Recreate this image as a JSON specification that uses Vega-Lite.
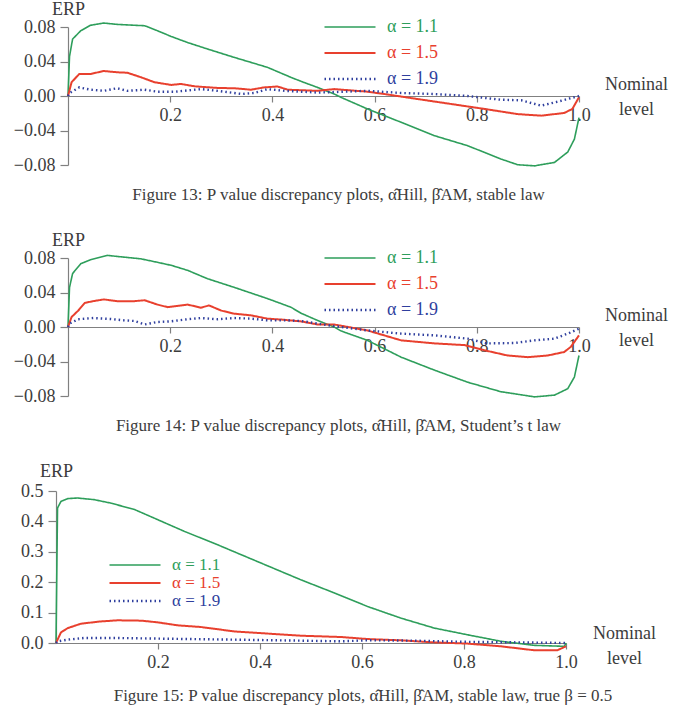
{
  "$schema": "https://vega.github.io/schema/vega-lite/v6.json",
  "padding": {"left": 13, "top": 0, "right": 4, "bottom": 4},
  "spacing": 28,
  "columns": 1,
  "align": "none",
  "config": {
    "font": "Liberation Serif",
    "view": {"stroke": null},
    "axis": {
      "grid": false,
      "labelFont": "Liberation Serif",
      "labelFontSize": 18,
      "labelColor": "#3c3c3c",
      "domainColor": "#808080",
      "tickColor": "#808080",
      "domainWidth": 1.2,
      "tickWidth": 1.2,
      "titleFont": "Liberation Serif",
      "titleFontSize": 18,
      "titleFontWeight": "normal",
      "titleColor": "#3c3c3c",
      "labelOverlap": false
    },
    "axisX": {"tickSize": 6, "labelPadding": 4, "labelFlush": false},
    "axisY": {"tickSize": 8, "labelPadding": 5},
    "legend": {
      "orient": "none", "legendX": 255, "legendY": -13,
      "title": null, "padding": 0,
      "symbolType": "stroke", "symbolSize": 2601,
      "clipHeight": 26, "rowPadding": 0,
      "labelFont": "Liberation Serif", "labelFontSize": 18, "labelOffset": 10
    },
    "title": {"fontSize": 17, "fontWeight": "normal", "color": "#3c3c3c", "font": "Liberation Serif"}
  },
  "datasets": {
    "stable": [
      {"alpha": "α = 1.1", "level": 0, "erp": 0},
      {"alpha": "α = 1.1", "level": 0.003, "erp": 0.046},
      {"alpha": "α = 1.1", "level": 0.009, "erp": 0.066},
      {"alpha": "α = 1.1", "level": 0.025, "erp": 0.0757},
      {"alpha": "α = 1.1", "level": 0.044, "erp": 0.082},
      {"alpha": "α = 1.1", "level": 0.07, "erp": 0.0846},
      {"alpha": "α = 1.1", "level": 0.096, "erp": 0.083},
      {"alpha": "α = 1.1", "level": 0.13, "erp": 0.082},
      {"alpha": "α = 1.1", "level": 0.15, "erp": 0.0815},
      {"alpha": "α = 1.1", "level": 0.175, "erp": 0.0757},
      {"alpha": "α = 1.1", "level": 0.202, "erp": 0.069},
      {"alpha": "α = 1.1", "level": 0.234, "erp": 0.062},
      {"alpha": "α = 1.1", "level": 0.273, "erp": 0.0545},
      {"alpha": "α = 1.1", "level": 0.325, "erp": 0.0448},
      {"alpha": "α = 1.1", "level": 0.39, "erp": 0.0333},
      {"alpha": "α = 1.1", "level": 0.436, "erp": 0.0217},
      {"alpha": "α = 1.1", "level": 0.456, "erp": 0.017},
      {"alpha": "α = 1.1", "level": 0.488, "erp": 0.01},
      {"alpha": "α = 1.1", "level": 0.521, "erp": 0.0023},
      {"alpha": "α = 1.1", "level": 0.534, "erp": -0.0015},
      {"alpha": "α = 1.1", "level": 0.586, "erp": -0.015},
      {"alpha": "α = 1.1", "level": 0.652, "erp": -0.0305},
      {"alpha": "α = 1.1", "level": 0.717, "erp": -0.046},
      {"alpha": "α = 1.1", "level": 0.782, "erp": -0.0576},
      {"alpha": "α = 1.1", "level": 0.847, "erp": -0.073},
      {"alpha": "α = 1.1", "level": 0.88, "erp": -0.0797},
      {"alpha": "α = 1.1", "level": 0.913, "erp": -0.081},
      {"alpha": "α = 1.1", "level": 0.952, "erp": -0.077},
      {"alpha": "α = 1.1", "level": 0.978, "erp": -0.065},
      {"alpha": "α = 1.1", "level": 0.991, "erp": -0.05},
      {"alpha": "α = 1.1", "level": 1.0, "erp": -0.025},
      {"alpha": "α = 1.5", "level": 0, "erp": 0},
      {"alpha": "α = 1.5", "level": 0.007, "erp": 0.016},
      {"alpha": "α = 1.5", "level": 0.022, "erp": 0.0255},
      {"alpha": "α = 1.5", "level": 0.044, "erp": 0.0255},
      {"alpha": "α = 1.5", "level": 0.07, "erp": 0.029},
      {"alpha": "α = 1.5", "level": 0.096, "erp": 0.0275},
      {"alpha": "α = 1.5", "level": 0.116, "erp": 0.027},
      {"alpha": "α = 1.5", "level": 0.143, "erp": 0.0217},
      {"alpha": "α = 1.5", "level": 0.169, "erp": 0.016},
      {"alpha": "α = 1.5", "level": 0.202, "erp": 0.0128},
      {"alpha": "α = 1.5", "level": 0.221, "erp": 0.014},
      {"alpha": "α = 1.5", "level": 0.248, "erp": 0.0112},
      {"alpha": "α = 1.5", "level": 0.293, "erp": 0.0093},
      {"alpha": "α = 1.5", "level": 0.325, "erp": 0.009},
      {"alpha": "α = 1.5", "level": 0.358, "erp": 0.0073},
      {"alpha": "α = 1.5", "level": 0.384, "erp": 0.01},
      {"alpha": "α = 1.5", "level": 0.41, "erp": 0.011},
      {"alpha": "α = 1.5", "level": 0.43, "erp": 0.0073},
      {"alpha": "α = 1.5", "level": 0.488, "erp": 0.006},
      {"alpha": "α = 1.5", "level": 0.521, "erp": 0.008},
      {"alpha": "α = 1.5", "level": 0.586, "erp": 0.005},
      {"alpha": "α = 1.5", "level": 0.619, "erp": 0.0023},
      {"alpha": "α = 1.5", "level": 0.684, "erp": -0.0035},
      {"alpha": "α = 1.5", "level": 0.75, "erp": -0.0093},
      {"alpha": "α = 1.5", "level": 0.815, "erp": -0.015},
      {"alpha": "α = 1.5", "level": 0.88, "erp": -0.021},
      {"alpha": "α = 1.5", "level": 0.926, "erp": -0.0228},
      {"alpha": "α = 1.5", "level": 0.971, "erp": -0.0197},
      {"alpha": "α = 1.5", "level": 0.987, "erp": -0.015},
      {"alpha": "α = 1.5", "level": 1.0, "erp": -0.0015},
      {"alpha": "α = 1.9", "level": 0, "erp": 0},
      {"alpha": "α = 1.9", "level": 0.003, "erp": 0.0035},
      {"alpha": "α = 1.9", "level": 0.022, "erp": 0.01},
      {"alpha": "α = 1.9", "level": 0.044, "erp": 0.0073},
      {"alpha": "α = 1.9", "level": 0.07, "erp": 0.006},
      {"alpha": "α = 1.9", "level": 0.096, "erp": 0.009},
      {"alpha": "α = 1.9", "level": 0.116, "erp": 0.006},
      {"alpha": "α = 1.9", "level": 0.15, "erp": 0.0073},
      {"alpha": "α = 1.9", "level": 0.175, "erp": 0.005},
      {"alpha": "α = 1.9", "level": 0.21, "erp": 0.005},
      {"alpha": "α = 1.9", "level": 0.26, "erp": 0.008},
      {"alpha": "α = 1.9", "level": 0.293, "erp": 0.006},
      {"alpha": "α = 1.9", "level": 0.34, "erp": 0.0023},
      {"alpha": "α = 1.9", "level": 0.365, "erp": 0.0035},
      {"alpha": "α = 1.9", "level": 0.39, "erp": 0.008},
      {"alpha": "α = 1.9", "level": 0.424, "erp": 0.006},
      {"alpha": "α = 1.9", "level": 0.488, "erp": 0.004},
      {"alpha": "α = 1.9", "level": 0.521, "erp": 0.0046},
      {"alpha": "α = 1.9", "level": 0.586, "erp": 0.006},
      {"alpha": "α = 1.9", "level": 0.652, "erp": 0.0035},
      {"alpha": "α = 1.9", "level": 0.717, "erp": 0.0023},
      {"alpha": "α = 1.9", "level": 0.782, "erp": 0.0},
      {"alpha": "α = 1.9", "level": 0.847, "erp": -0.0043},
      {"alpha": "α = 1.9", "level": 0.887, "erp": -0.005},
      {"alpha": "α = 1.9", "level": 0.926, "erp": -0.0112},
      {"alpha": "α = 1.9", "level": 0.958, "erp": -0.0066},
      {"alpha": "α = 1.9", "level": 1.0, "erp": 0.0}
    ],
    "student": [
      {"alpha": "α = 1.1", "level": 0, "erp": 0},
      {"alpha": "α = 1.1", "level": 0.003, "erp": 0.046},
      {"alpha": "α = 1.1", "level": 0.009, "erp": 0.062},
      {"alpha": "α = 1.1", "level": 0.025, "erp": 0.0734},
      {"alpha": "α = 1.1", "level": 0.044, "erp": 0.078},
      {"alpha": "α = 1.1", "level": 0.077, "erp": 0.083},
      {"alpha": "α = 1.1", "level": 0.11, "erp": 0.081},
      {"alpha": "α = 1.1", "level": 0.143, "erp": 0.079},
      {"alpha": "α = 1.1", "level": 0.175, "erp": 0.075},
      {"alpha": "α = 1.1", "level": 0.202, "erp": 0.0715},
      {"alpha": "α = 1.1", "level": 0.234, "erp": 0.0657},
      {"alpha": "α = 1.1", "level": 0.273, "erp": 0.056},
      {"alpha": "α = 1.1", "level": 0.325, "erp": 0.046},
      {"alpha": "α = 1.1", "level": 0.39, "erp": 0.033},
      {"alpha": "α = 1.1", "level": 0.436, "erp": 0.023},
      {"alpha": "α = 1.1", "level": 0.456, "erp": 0.016},
      {"alpha": "α = 1.1", "level": 0.488, "erp": 0.0077},
      {"alpha": "α = 1.1", "level": 0.521, "erp": 0.0},
      {"alpha": "α = 1.1", "level": 0.534, "erp": -0.0045},
      {"alpha": "α = 1.1", "level": 0.586, "erp": -0.0155},
      {"alpha": "α = 1.1", "level": 0.652, "erp": -0.035},
      {"alpha": "α = 1.1", "level": 0.717, "erp": -0.05},
      {"alpha": "α = 1.1", "level": 0.782, "erp": -0.064},
      {"alpha": "α = 1.1", "level": 0.847, "erp": -0.075},
      {"alpha": "α = 1.1", "level": 0.913, "erp": -0.081},
      {"alpha": "α = 1.1", "level": 0.952, "erp": -0.079},
      {"alpha": "α = 1.1", "level": 0.978, "erp": -0.0715},
      {"alpha": "α = 1.1", "level": 0.991, "erp": -0.058},
      {"alpha": "α = 1.1", "level": 1.0, "erp": -0.033},
      {"alpha": "α = 1.5", "level": 0, "erp": 0},
      {"alpha": "α = 1.5", "level": 0.007, "erp": 0.0116},
      {"alpha": "α = 1.5", "level": 0.02, "erp": 0.019},
      {"alpha": "α = 1.5", "level": 0.033, "erp": 0.028},
      {"alpha": "α = 1.5", "level": 0.05, "erp": 0.03},
      {"alpha": "α = 1.5", "level": 0.07, "erp": 0.032},
      {"alpha": "α = 1.5", "level": 0.096, "erp": 0.03},
      {"alpha": "α = 1.5", "level": 0.13, "erp": 0.03},
      {"alpha": "α = 1.5", "level": 0.15, "erp": 0.031},
      {"alpha": "α = 1.5", "level": 0.175, "erp": 0.026},
      {"alpha": "α = 1.5", "level": 0.195, "erp": 0.023},
      {"alpha": "α = 1.5", "level": 0.221, "erp": 0.025},
      {"alpha": "α = 1.5", "level": 0.234, "erp": 0.026},
      {"alpha": "α = 1.5", "level": 0.26, "erp": 0.0224},
      {"alpha": "α = 1.5", "level": 0.276, "erp": 0.025},
      {"alpha": "α = 1.5", "level": 0.3, "erp": 0.019},
      {"alpha": "α = 1.5", "level": 0.325, "erp": 0.0155},
      {"alpha": "α = 1.5", "level": 0.358, "erp": 0.0135},
      {"alpha": "α = 1.5", "level": 0.39, "erp": 0.0097},
      {"alpha": "α = 1.5", "level": 0.42, "erp": 0.0085},
      {"alpha": "α = 1.5", "level": 0.456, "erp": 0.0065},
      {"alpha": "α = 1.5", "level": 0.488, "erp": 0.003},
      {"alpha": "α = 1.5", "level": 0.52, "erp": 0.003},
      {"alpha": "α = 1.5", "level": 0.586, "erp": -0.004},
      {"alpha": "α = 1.5", "level": 0.652, "erp": -0.0155},
      {"alpha": "α = 1.5", "level": 0.717, "erp": -0.019},
      {"alpha": "α = 1.5", "level": 0.776, "erp": -0.021},
      {"alpha": "α = 1.5", "level": 0.815, "erp": -0.027},
      {"alpha": "α = 1.5", "level": 0.86, "erp": -0.033},
      {"alpha": "α = 1.5", "level": 0.9, "erp": -0.035},
      {"alpha": "α = 1.5", "level": 0.939, "erp": -0.033},
      {"alpha": "α = 1.5", "level": 0.971, "erp": -0.029},
      {"alpha": "α = 1.5", "level": 0.984, "erp": -0.023},
      {"alpha": "α = 1.5", "level": 1.0, "erp": -0.0097},
      {"alpha": "α = 1.9", "level": 0, "erp": 0},
      {"alpha": "α = 1.9", "level": 0.003, "erp": 0.004},
      {"alpha": "α = 1.9", "level": 0.02, "erp": 0.009},
      {"alpha": "α = 1.9", "level": 0.05, "erp": 0.0104},
      {"alpha": "α = 1.9", "level": 0.083, "erp": 0.0093},
      {"alpha": "α = 1.9", "level": 0.11, "erp": 0.0077},
      {"alpha": "α = 1.9", "level": 0.13, "erp": 0.007},
      {"alpha": "α = 1.9", "level": 0.15, "erp": 0.003},
      {"alpha": "α = 1.9", "level": 0.175, "erp": 0.0058},
      {"alpha": "α = 1.9", "level": 0.202, "erp": 0.0066},
      {"alpha": "α = 1.9", "level": 0.234, "erp": 0.009},
      {"alpha": "α = 1.9", "level": 0.26, "erp": 0.0104},
      {"alpha": "α = 1.9", "level": 0.293, "erp": 0.009},
      {"alpha": "α = 1.9", "level": 0.325, "erp": 0.0104},
      {"alpha": "α = 1.9", "level": 0.358, "erp": 0.0097},
      {"alpha": "α = 1.9", "level": 0.39, "erp": 0.0077},
      {"alpha": "α = 1.9", "level": 0.424, "erp": 0.0077},
      {"alpha": "α = 1.9", "level": 0.456, "erp": 0.007},
      {"alpha": "α = 1.9", "level": 0.488, "erp": 0.004},
      {"alpha": "α = 1.9", "level": 0.521, "erp": 0.001},
      {"alpha": "α = 1.9", "level": 0.586, "erp": -0.004},
      {"alpha": "α = 1.9", "level": 0.652, "erp": -0.0077},
      {"alpha": "α = 1.9", "level": 0.717, "erp": -0.0097},
      {"alpha": "α = 1.9", "level": 0.782, "erp": -0.0135},
      {"alpha": "α = 1.9", "level": 0.82, "erp": -0.019},
      {"alpha": "α = 1.9", "level": 0.873, "erp": -0.0186},
      {"alpha": "α = 1.9", "level": 0.913, "erp": -0.0155},
      {"alpha": "α = 1.9", "level": 0.952, "erp": -0.0135},
      {"alpha": "α = 1.9", "level": 0.978, "erp": -0.0077},
      {"alpha": "α = 1.9", "level": 1.0, "erp": -0.002}
    ],
    "skewed": [
      {"alpha": "α = 1.1", "level": 0, "erp": 0},
      {"alpha": "α = 1.1", "level": 0.003, "erp": 0.444},
      {"alpha": "α = 1.1", "level": 0.0098, "erp": 0.466},
      {"alpha": "α = 1.1", "level": 0.023, "erp": 0.475},
      {"alpha": "α = 1.1", "level": 0.042, "erp": 0.477},
      {"alpha": "α = 1.1", "level": 0.075, "erp": 0.4715},
      {"alpha": "α = 1.1", "level": 0.108, "erp": 0.46},
      {"alpha": "α = 1.1", "level": 0.154, "erp": 0.439},
      {"alpha": "α = 1.1", "level": 0.199, "erp": 0.406},
      {"alpha": "α = 1.1", "level": 0.252, "erp": 0.367},
      {"alpha": "α = 1.1", "level": 0.317, "erp": 0.323},
      {"alpha": "α = 1.1", "level": 0.402, "erp": 0.263},
      {"alpha": "α = 1.1", "level": 0.48, "erp": 0.208},
      {"alpha": "α = 1.1", "level": 0.546, "erp": 0.1645},
      {"alpha": "α = 1.1", "level": 0.611, "erp": 0.12},
      {"alpha": "α = 1.1", "level": 0.676, "erp": 0.082},
      {"alpha": "α = 1.1", "level": 0.742, "erp": 0.049},
      {"alpha": "α = 1.1", "level": 0.807, "erp": 0.027},
      {"alpha": "α = 1.1", "level": 0.873, "erp": 0.0055},
      {"alpha": "α = 1.1", "level": 0.938, "erp": -0.0077},
      {"alpha": "α = 1.1", "level": 0.997, "erp": -0.011},
      {"alpha": "α = 1.1", "level": 1.0, "erp": 0.0},
      {"alpha": "α = 1.5", "level": 0, "erp": 0},
      {"alpha": "α = 1.5", "level": 0.0098, "erp": 0.035},
      {"alpha": "α = 1.5", "level": 0.023, "erp": 0.049},
      {"alpha": "α = 1.5", "level": 0.049, "erp": 0.0636},
      {"alpha": "α = 1.5", "level": 0.088, "erp": 0.071},
      {"alpha": "α = 1.5", "level": 0.121, "erp": 0.0746},
      {"alpha": "α = 1.5", "level": 0.167, "erp": 0.0735},
      {"alpha": "α = 1.5", "level": 0.199, "erp": 0.068},
      {"alpha": "α = 1.5", "level": 0.239, "erp": 0.058},
      {"alpha": "α = 1.5", "level": 0.284, "erp": 0.0526},
      {"alpha": "α = 1.5", "level": 0.35, "erp": 0.038},
      {"alpha": "α = 1.5", "level": 0.415, "erp": 0.031},
      {"alpha": "α = 1.5", "level": 0.48, "erp": 0.024},
      {"alpha": "α = 1.5", "level": 0.559, "erp": 0.0197},
      {"alpha": "α = 1.5", "level": 0.611, "erp": 0.013},
      {"alpha": "α = 1.5", "level": 0.676, "erp": 0.0088},
      {"alpha": "α = 1.5", "level": 0.742, "erp": 0.002},
      {"alpha": "α = 1.5", "level": 0.807, "erp": -0.002},
      {"alpha": "α = 1.5", "level": 0.873, "erp": -0.011},
      {"alpha": "α = 1.5", "level": 0.938, "erp": -0.024},
      {"alpha": "α = 1.5", "level": 0.983, "erp": -0.024},
      {"alpha": "α = 1.5", "level": 1.0, "erp": -0.011},
      {"alpha": "α = 1.9", "level": 0, "erp": 0},
      {"alpha": "α = 1.9", "level": 0.003, "erp": 0.0055},
      {"alpha": "α = 1.9", "level": 0.023, "erp": 0.011},
      {"alpha": "α = 1.9", "level": 0.055, "erp": 0.0164},
      {"alpha": "α = 1.9", "level": 0.121, "erp": 0.0164},
      {"alpha": "α = 1.9", "level": 0.219, "erp": 0.014},
      {"alpha": "α = 1.9", "level": 0.35, "erp": 0.011},
      {"alpha": "α = 1.9", "level": 0.48, "erp": 0.0077},
      {"alpha": "α = 1.9", "level": 0.559, "erp": 0.0055},
      {"alpha": "α = 1.9", "level": 0.611, "erp": 0.009},
      {"alpha": "α = 1.9", "level": 0.7, "erp": 0.0077},
      {"alpha": "α = 1.9", "level": 0.8, "erp": 0.004},
      {"alpha": "α = 1.9", "level": 0.9, "erp": 0.0022},
      {"alpha": "α = 1.9", "level": 1.0, "erp": 0.0}
    ]
  },
  "resolve": {"legend": {"color": "independent", "strokeDash": "independent", "strokeWidth": "independent"}},
  "concat": [
    {
      "width": 511,
      "height": 138,
      "data": {"name": "stable"},
      "title": {"text": "Figure 13: P value discrepancy plots, α̂Hill, β̂AM, stable law", "orient": "bottom", "anchor": "middle", "frame": "group", "dx": 15, "offset": 13},
      "mark": {"type": "line", "strokeCap": "butt"},
      "encoding": {
        "x": {"field": "level", "type": "quantitative", "scale": {"domain": [0, 1], "nice": false, "zero": false},
          "axis": {"offset": -69, "values": [0.2, 0.4, 0.6, 0.8, 1.0], "format": ".1f",
            "title": ["Nominal", "level"], "titleAngle": 0, "titleAlign": "center", "titleBaseline": "alphabetic", "titleLineHeight": 25, "titleX": 568, "titleY": -7}},
        "y": {"field": "erp", "type": "quantitative", "scale": {"domain": [-0.08, 0.08], "nice": false},
          "axis": {"values": [-0.08, -0.04, 0, 0.04, 0.08], "format": ".2f",
            "title": "ERP", "titleAngle": 0, "titleAlign": "center", "titleBaseline": "alphabetic", "titleX": 0, "titleY": -13}},
        "color": {"field": "alpha", "type": "nominal", "scale": {"domain": ["α = 1.1", "α = 1.5", "α = 1.9"], "range": ["#2e9e5b", "#e8402e", "#2f3f9e"]},
          "legend": {"encode": {"labels": {"update": {"fill": {"signal": "datum.value === 'α = 1.1' ? '#2e9e5b' : datum.value === 'α = 1.5' ? '#e8402e' : '#2f3f9e'"}}}}}},
        "strokeDash": {"field": "alpha", "type": "nominal", "scale": {"domain": ["α = 1.1", "α = 1.5", "α = 1.9"], "range": [[1, 0], [1, 0], [1.5, 3]]}},
        "strokeWidth": {"field": "alpha", "type": "nominal", "scale": {"domain": ["α = 1.1", "α = 1.5", "α = 1.9"], "range": [1.6, 2.4, 1.8]}}
      }
    },
    {
      "width": 511,
      "height": 138,
      "data": {"name": "student"},
      "title": {"text": "Figure 14: P value discrepancy plots, α̂Hill, β̂AM, Student’s t law", "orient": "bottom", "anchor": "middle", "frame": "group", "dx": 15, "offset": 13},
      "mark": {"type": "line", "strokeCap": "butt"},
      "encoding": {
        "x": {"field": "level", "type": "quantitative", "scale": {"domain": [0, 1], "nice": false, "zero": false},
          "axis": {"offset": -69, "values": [0.2, 0.4, 0.6, 0.8, 1.0], "format": ".1f",
            "title": ["Nominal", "level"], "titleAngle": 0, "titleAlign": "center", "titleBaseline": "alphabetic", "titleLineHeight": 25, "titleX": 568, "titleY": -7}},
        "y": {"field": "erp", "type": "quantitative", "scale": {"domain": [-0.08, 0.08], "nice": false},
          "axis": {"values": [-0.08, -0.04, 0, 0.04, 0.08], "format": ".2f",
            "title": "ERP", "titleAngle": 0, "titleAlign": "center", "titleBaseline": "alphabetic", "titleX": 0, "titleY": -13}},
        "color": {"field": "alpha", "type": "nominal", "scale": {"domain": ["α = 1.1", "α = 1.5", "α = 1.9"], "range": ["#2e9e5b", "#e8402e", "#2f3f9e"]},
          "legend": {"encode": {"labels": {"update": {"fill": {"signal": "datum.value === 'α = 1.1' ? '#2e9e5b' : datum.value === 'α = 1.5' ? '#e8402e' : '#2f3f9e'"}}}}}},
        "strokeDash": {"field": "alpha", "type": "nominal", "scale": {"domain": ["α = 1.1", "α = 1.5", "α = 1.9"], "range": [[1, 0], [1, 0], [1.5, 3]]}},
        "strokeWidth": {"field": "alpha", "type": "nominal", "scale": {"domain": ["α = 1.1", "α = 1.5", "α = 1.9"], "range": [1.6, 2.4, 1.8]}}
      }
    },
    {
      "width": 498,
      "height": 152,
      "data": {"name": "skewed"},
      "title": {"text": "Figure 15: P value discrepancy plots, α̂Hill, β̂AM, stable law, true β = 0.5", "orient": "bottom", "anchor": "middle", "frame": "group", "dx": 46, "offset": 17},
      "mark": {"type": "line", "strokeCap": "butt"},
      "encoding": {
        "x": {"field": "level", "type": "quantitative", "scale": {"domain": [0, 1], "range": [-12, 498], "nice": false, "zero": false},
          "axis": {"values": [0.2, 0.4, 0.6, 0.8, 1.0], "format": ".1f",
            "title": ["Nominal", "level"], "titleAngle": 0, "titleAlign": "center", "titleBaseline": "alphabetic", "titleLineHeight": 25, "titleX": 556, "titleY": -5}},
        "y": {"field": "erp", "type": "quantitative", "scale": {"domain": [0, 0.5], "nice": false},
          "axis": {"values": [0, 0.1, 0.2, 0.3, 0.4, 0.5], "format": ".1f", "offset": 12,
            "title": "ERP", "titleAngle": 0, "titleAlign": "center", "titleBaseline": "alphabetic", "titleX": 0, "titleY": -15}},
        "color": {"field": "alpha", "type": "nominal", "scale": {"domain": ["α = 1.1", "α = 1.5", "α = 1.9"], "range": ["#2e9e5b", "#e8402e", "#2f3f9e"]},
          "legend": {"legendX": 40, "legendY": 65, "clipHeight": 18, "labelFontSize": 17, "encode": {"labels": {"update": {"fill": {"signal": "datum.value === 'α = 1.1' ? '#2e9e5b' : datum.value === 'α = 1.5' ? '#e8402e' : '#2f3f9e'"}}}}}},
        "strokeDash": {"field": "alpha", "type": "nominal", "scale": {"domain": ["α = 1.1", "α = 1.5", "α = 1.9"], "range": [[1, 0], [1, 0], [1.5, 3]]},
          "legend": {"legendX": 40, "legendY": 65, "clipHeight": 18, "labelFontSize": 17, "encode": {"labels": {"update": {"fill": {"signal": "datum.value === 'α = 1.1' ? '#2e9e5b' : datum.value === 'α = 1.5' ? '#e8402e' : '#2f3f9e'"}}}}}},
        "strokeWidth": {"field": "alpha", "type": "nominal", "scale": {"domain": ["α = 1.1", "α = 1.5", "α = 1.9"], "range": [1.6, 2.4, 1.8]},
          "legend": {"legendX": 40, "legendY": 65, "clipHeight": 18, "labelFontSize": 17, "encode": {"labels": {"update": {"fill": {"signal": "datum.value === 'α = 1.1' ? '#2e9e5b' : datum.value === 'α = 1.5' ? '#e8402e' : '#2f3f9e'"}}}}}}
      }
    }
  ]
}
